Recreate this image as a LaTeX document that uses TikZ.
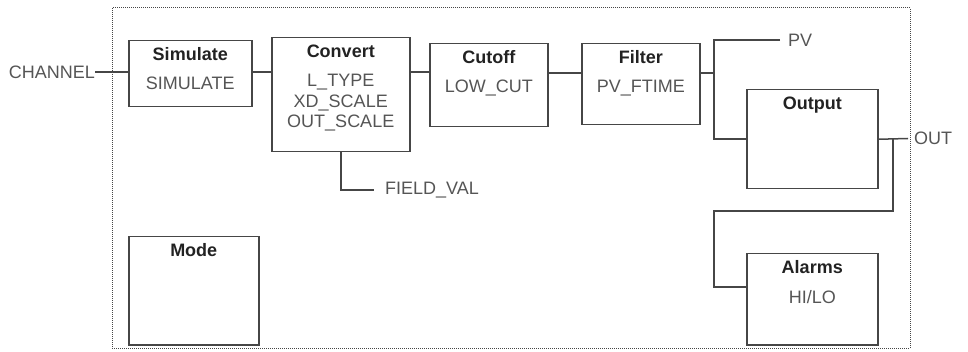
\documentclass[tikz,border=0pt]{standalone}
\usepackage{fontspec}
\setmainfont{Liberation Sans}
\usetikzlibrary{positioning}
\definecolor{linegray}{HTML}{464646}
\definecolor{textgray}{HTML}{555555}
\definecolor{titlegray}{HTML}{222222}

\begin{document}
\begin{tikzpicture}[x=1pt,y=-1pt,
  blk/.style={draw=linegray,line width=1.5pt,inner sep=0pt,anchor=north west},
  ttl/.style={font=\fontsize{18}{20.5}\selectfont\bfseries,text=titlegray,inner sep=0pt},
  txt/.style={font=\fontsize{18}{20.5}\selectfont,text=textgray,inner sep=0pt,align=center},
  sig/.style={font=\fontsize{18}{20.5}\selectfont,text=textgray,inner sep=0pt},
  wire/.style={draw=linegray,line width=1.5pt},
  frame/.style={draw=linegray,densely dotted,line width=1pt}]
\useasboundingbox (0,0) rectangle (968,352);
\draw[frame] (112,8) rectangle (910,348);

\node[blk,minimum width=123pt,minimum height=66pt] (sim) at (128,40) {};
\node[blk,minimum width=138pt,minimum height=114pt] (conv) at (271,37) {};
\node[blk,minimum width=118pt,minimum height=83pt] (cut) at (429,43) {};
\node[blk,minimum width=118pt,minimum height=81pt] (filt) at (581,43) {};
\node[blk,minimum width=131pt,minimum height=99pt] (outp) at (746,89) {};
\node[blk,minimum width=130pt,minimum height=108pt] (mode) at (128,236) {};
\node[blk,minimum width=131pt,minimum height=91pt] (alarm) at (746,253) {};

\node[ttl,below=7.5pt of sim.north] (simT) {Simulate};
\node[txt,below=37pt of sim.north] (simV) {SIMULATE};
\node[ttl,below=7.5pt of conv.north] (convT) {Convert};
\node[txt,below=37pt of conv.north] (convV) {L\_TYPE\\XD\_SCALE\\OUT\_SCALE};
\node[ttl,below=7.5pt of cut.north] (cutT) {Cutoff};
\node[txt,below=37pt of cut.north] (cutV) {LOW\_CUT};
\node[ttl,below=7.5pt of filt.north] (filtT) {Filter};
\node[txt,below=37pt of filt.north] (filtV) {PV\_FTIME};
\node[ttl,below=7.5pt of outp.north] (outpT) {Output};
\node[ttl,below=7.5pt of mode.north] (modeT) {Mode};
\node[ttl,below=7.5pt of alarm.north] (alarmT) {Alarms};
\node[txt,below=37pt of alarm.north] (alarmV) {HI/LO};

\node[sig,anchor=east] (chan) at (95,72) {CHANNEL};
\node[sig,anchor=west,inner xsep=8pt] (pv) at (780,40) {PV};
\node[sig,anchor=west,inner xsep=6pt] (out) at (908,138.5) {OUT};
\node[sig,anchor=west,inner xsep=11pt] (fv) at (374,190) {FIELD\_VAL};

\coordinate (j1) at (714,73);
\coordinate (j2) at (893,138.5);
\coordinate (j3) at (714,211);
\coordinate (al) at (746,287);

\draw[wire] (chan.east) -- (chan.east -| sim.west);
\draw[wire] (sim.east |- chan.east) -- (conv.west |- chan.east);
\draw[wire] (conv.east |- chan.east) -- (cut.west |- chan.east);
\draw[wire] (cut.east |- j1) -- (filt.west |- j1);
\draw[wire] (filt.east |- j1) -- (j1);
\draw[wire] (pv.west) -| (j1) |- (outp.west);
\draw[wire] (outp.east) -- (out.west);
\draw[wire] (j2) |- (j3) |- (al);
\draw[wire] (conv.south) |- (fv.west);
\end{tikzpicture}
\end{document}
